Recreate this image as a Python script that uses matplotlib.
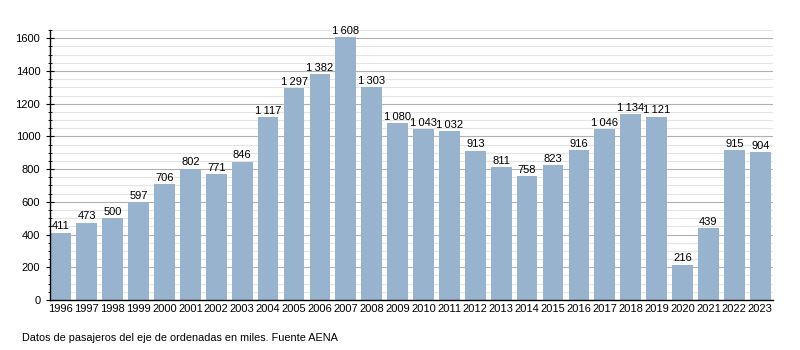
import numpy as np
import matplotlib.pyplot as plt
import matplotlib
from matplotlib.ticker import MultipleLocator

matplotlib.rcParams['font.family'] = ['Liberation Sans', 'DejaVu Sans']

# passengers per year, thousands
years = list(range(1996, 2024))
passengers = [411, 473, 500, 597, 706, 802, 771, 846, 1117, 1297, 1382, 1608,
              1303, 1080, 1043, 1032, 913, 811, 758, 823, 916, 1046, 1134, 1121,
              216, 439, 915, 904]


def fmt(v):
    # thousands separated by a thin space
    return f"{v:,}".replace(",", "\u2009")


fig = plt.figure(figsize=(8, 3.5), dpi=100)
ax = fig.add_axes([0.0625, 0.143, 0.904, 0.771])

x = np.arange(len(years))
bars = ax.bar(x, passengers, width=0.8, color='#98b3ce', zorder=3)

for xi, v in zip(x, passengers):
    ax.text(xi, v + 8, fmt(v), ha='center', va='bottom', fontsize=8, zorder=4)

ax.set_xlim(-0.42, 27.5)
ax.set_ylim(0, 1650)
ax.set_xticks(x)
ax.set_xticklabels([str(y) for y in years], fontsize=8)
ax.tick_params(axis='x', length=0, pad=3)

ax.yaxis.set_major_locator(MultipleLocator(200))
ax.yaxis.set_minor_locator(MultipleLocator(50))
ax.tick_params(axis='y', which='major', length=6, direction='inout', labelsize=8, pad=4)
ax.tick_params(axis='y', which='minor', length=3, direction='inout')

ax.grid(axis='y', which='major', color='#b0b0b0', linewidth=0.8, zorder=0)
ax.grid(axis='y', which='minor', color='#e4e4e4', linewidth=0.8, zorder=0)

for s in ['top', 'right']:
    ax.spines[s].set_visible(False)
ax.spines['left'].set_linewidth(1.0)
ax.spines['bottom'].set_linewidth(1.0)
ax.spines['left'].set_zorder(5)
ax.spines['bottom'].set_zorder(5)

fig.text(22 / 800, 1 - 338 / 350, "Datos de pasajeros del eje de ordenadas en miles. Fuente AENA",
         fontsize=7.8, va='center', ha='left')

fig.savefig('out.png', dpi=100)
